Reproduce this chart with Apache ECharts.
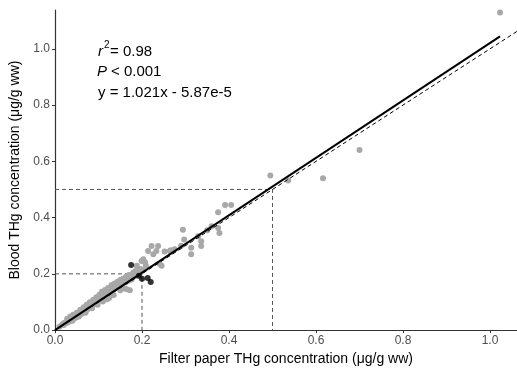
<!DOCTYPE html>
<html>
<head>
<meta charset="utf-8">
<script src="https://cdn.jsdelivr.net/npm/echarts@6/dist/echarts.min.js"></script>
<style>html,body{margin:0;padding:0;background:#fff}#c{width:517px;height:371px}</style>
</head>
<body>
<div id="c"></div>
<script>
// Grey observations [filter paper THg, blood THg]
const greyPoints = [
[0.010,0.012],[0.015,0.017],[0.018,0.022],[0.020,0.018],[0.022,0.026],[0.025,0.024],[0.027,0.030],[0.030,0.028],
[0.030,0.034],[0.032,0.031],[0.035,0.037],[0.036,0.033],[0.038,0.042],[0.040,0.038],[0.041,0.044],[0.043,0.040],
[0.045,0.048],[0.046,0.043],[0.048,0.052],[0.050,0.047],[0.051,0.055],[0.053,0.050],[0.055,0.058],[0.056,0.053],
[0.058,0.062],[0.060,0.057],[0.061,0.065],[0.062,0.060],[0.064,0.068],[0.065,0.063],[0.067,0.072],[0.068,0.066],
[0.070,0.075],[0.071,0.069],[0.072,0.079],[0.074,0.073],[0.075,0.082],[0.076,0.077],[0.078,0.085],[0.079,0.080],
[0.080,0.088],[0.082,0.083],[0.083,0.091],[0.085,0.086],[0.086,0.095],[0.088,0.090],[0.089,0.098],[0.090,0.093],
[0.092,0.101],[0.093,0.096],[0.095,0.105],[0.096,0.099],[0.098,0.108],[0.099,0.103],[0.100,0.112],[0.102,0.106],
[0.103,0.116],[0.105,0.110],[0.106,0.120],[0.108,0.113],[0.110,0.124],[0.111,0.117],[0.112,0.128],[0.114,0.121],
[0.115,0.132],[0.117,0.125],[0.118,0.136],[0.120,0.129],[0.122,0.140],[0.123,0.133],[0.125,0.144],[0.127,0.137],
[0.128,0.148],[0.130,0.141],[0.132,0.152],[0.134,0.146],[0.136,0.157],[0.138,0.150],[0.140,0.162],[0.143,0.156],
[0.146,0.168],[0.148,0.160],[0.152,0.172],[0.155,0.165],[0.158,0.176],[0.162,0.170],[0.165,0.180],[0.168,0.175],
[0.172,0.185],[0.176,0.180],[0.180,0.190],[0.185,0.192],[0.190,0.200],
[0.028,0.040],[0.035,0.048],[0.042,0.055],[0.050,0.062],[0.058,0.072],[0.066,0.081],[0.073,0.090],[0.080,0.099],
[0.088,0.108],[0.095,0.117],[0.102,0.126],[0.108,0.136],[0.115,0.143],[0.122,0.150],[0.130,0.160],[0.137,0.166],
[0.144,0.172],[0.150,0.178],[0.156,0.183],[0.163,0.190],[0.170,0.196],
[0.040,0.033],[0.055,0.048],[0.070,0.062],[0.085,0.078],[0.098,0.090],[0.110,0.102],
[0.120,0.110],[0.125,0.115],[0.135,0.125],[0.150,0.142],[0.160,0.148],[0.165,0.145],[0.172,0.142],
[0.188,0.229],[0.195,0.217],[0.199,0.246],[0.207,0.241],[0.214,0.281],[0.222,0.299],[0.233,0.281],[0.226,0.270],
[0.241,0.235],[0.245,0.229],[0.209,0.229],[0.203,0.252],[0.180,0.205],[0.185,0.210],[0.200,0.215],
[0.237,0.299],[0.252,0.279],[0.264,0.281],[0.275,0.287],[0.266,0.284],[0.294,0.357],[0.297,0.322],[0.313,0.293],
[0.313,0.270],[0.336,0.316],[0.336,0.299],[0.329,0.334],[0.375,0.363],[0.378,0.345],[0.375,0.419],[0.391,0.445],
[0.405,0.445],[0.290,0.300],[0.350,0.355],[0.360,0.369],
[0.495,0.550],[0.536,0.532],[0.616,0.540],[0.700,0.640],[1.023,1.129]
];
// Black observations
const blackPoints = [[0.175,0.231],[0.193,0.193],[0.200,0.183],[0.213,0.185],[0.220,0.171]];
// Regression line y = 1.021x - 5.87e-5
const fitLine = [[0,-0.0000587],[1.023,1.0444]];
// 1:1 line
const oneToOne = [[0,0],[1.062,1.062]];
// Guide lines
const guide02 = [[0,0.2],[0.2,0.2],[0.2,0]];
const guide05 = [[0,0.5],[0.5,0.5],[0.5,0]];
const tickValues = [0,0.2,0.4,0.6,0.8,1.0];

const font = 'Liberation Sans, Arial, sans-serif';
const chart = echarts.init(document.getElementById('c'), null, {renderer:'canvas'});
const axisCommon = {
  type:'value', min:0, splitLine:{show:false},
  axisLine:{show:true, lineStyle:{color:'#333', width:1.2}},
  axisTick:{show:true, length:3, customValues:tickValues, lineStyle:{color:'#333'}},
  axisLabel:{customValues:tickValues, color:'#4d4d4d', fontSize:12, fontFamily:font,
    formatter:v=>v.toFixed(1)},
  nameLocation:'middle',
  nameTextStyle:{color:'#000', fontSize:14, fontFamily:font}
};
chart.setOption({
  animation:false,
  grid:{left:53, right:0, top:10, bottom:35.5, containLabel:false},
  xAxis:Object.assign({}, axisCommon, {max:1.062, name:'Filter paper THg concentration (μg/g ww)', nameGap:20,
    axisLabel:Object.assign({}, axisCommon.axisLabel, {margin:5})}),
  yAxis:Object.assign({}, axisCommon, {max:1.138, name:'Blood THg concentration (μg/g ww)', nameGap:33,
    axisLabel:Object.assign({}, axisCommon.axisLabel, {margin:5})}),
  graphic:[
    {type:'text', left:98, top:44, style:{text:'r', font:'italic 15px '+font, fill:'#000'}},
    {type:'text', left:104, top:40, style:{text:'2', font:'10px '+font, fill:'#000'}},
    {type:'text', left:110, top:44, style:{text:'= 0.98', font:'15px '+font, fill:'#000'}},
    {type:'text', left:97, top:64, style:{text:'P', font:'italic 15px '+font, fill:'#000'}},
    {type:'text', left:111, top:64, style:{text:'< 0.001', font:'15px '+font, fill:'#000'}},
    {type:'text', left:98, top:85, style:{text:'y = 1.021x - 5.87e-5', font:'15px '+font, fill:'#000'}}
  ],
  series:[
    {type:'line', data:guide02, symbol:'none', lineStyle:{color:'#555', width:1, type:[4,3]}, z:1},
    {type:'line', data:guide05, symbol:'none', lineStyle:{color:'#555', width:1, type:[4,3]}, z:1},
    {type:'scatter', data:greyPoints, symbolSize:6, itemStyle:{color:'#a8a8a8', opacity:1}, z:2},
    {type:'scatter', data:blackPoints, symbolSize:6, itemStyle:{color:'#000'}, z:3},
    {type:'line', data:oneToOne, symbol:'none', lineStyle:{color:'#000', width:1, type:[4,3]}, z:4},
    {type:'line', data:fitLine, symbol:'none', lineStyle:{color:'#000', width:2}, z:5}
  ]
});
</script>
</body>
</html>
